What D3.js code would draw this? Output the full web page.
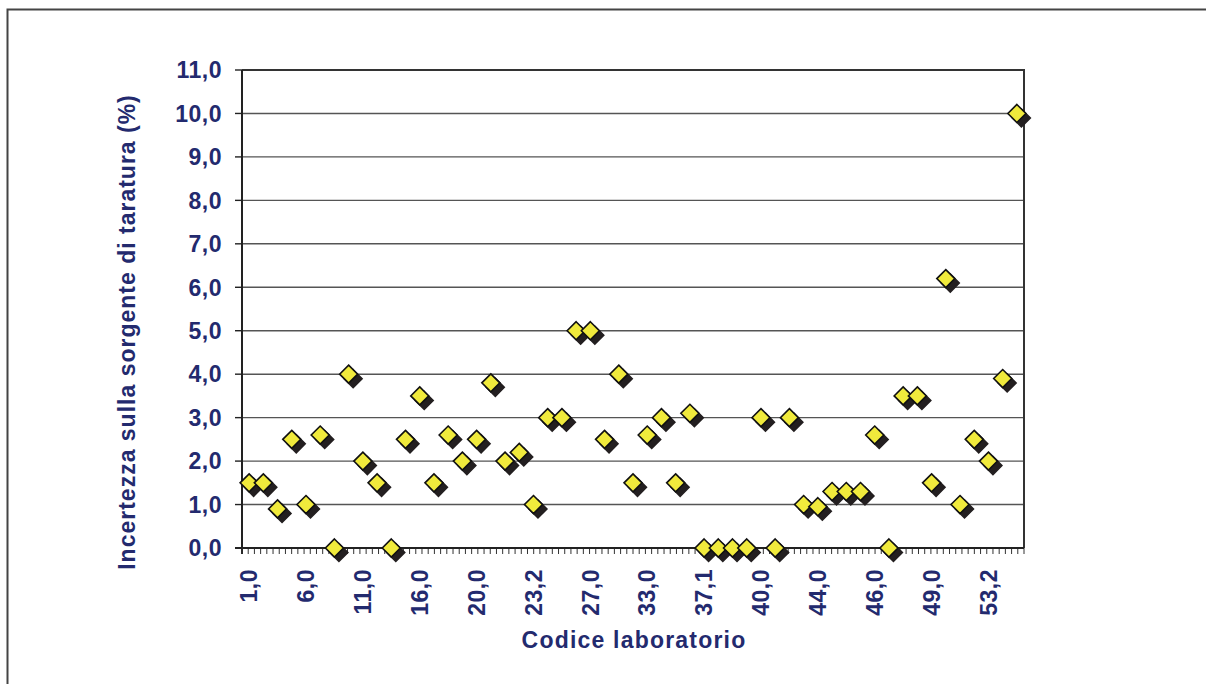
<!DOCTYPE html>
<html lang="it">
<head>
  <meta charset="UTF-8" />
  <title>Incertezza sulla sorgente di taratura</title>
  <script src="https://d3js.org/d3.v7.min.js"></script>
  <style>
    body { margin: 0; background: #fff; font-family: "Liberation Sans", Arial, sans-serif; }
    text { font-weight: bold; fill: #232a6e; }
  </style>
</head>
<body>
  <svg width="1206" height="684"></svg>

  <script>
  // one value per laboratorio, left to right
  const values = [
    1.5, 1.5, 0.9, 2.5, 1.0, 2.6, 0.0, 4.0, 2.0, 1.5,
    0.0, 2.5, 3.5, 1.5, 2.6, 2.0, 2.5, 3.8, 2.0, 2.2,
    1.0, 3.0, 3.0, 5.0, 5.0, 2.5, 4.0, 1.5, 2.6, 3.0,
    1.5, 3.1, 0.0, 0.0, 0.0, 0.0, 3.0, 0.0, 3.0, 1.0,
    0.95, 1.3, 1.3, 1.3, 2.6, 0.0, 3.5, 3.5, 1.5, 6.2,
    1.0, 2.5, 2.0, 3.9, 10.0
  ];
  // codes shown on the axis (every 4th laboratorio)
  const codeLabels = ["1,0", "6,0", "11,0", "16,0", "20,0", "23,2", "27,0",
                      "33,0", "37,1", "40,0", "44,0", "46,0", "49,0", "53,2"];
  const yTicks = [0, 1, 2, 3, 4, 5, 6, 7, 8, 9, 10, 11];
  const minorTickCount = 126;

  const svg = d3.select("svg");
  const margin = { left: 242, right: 182, top: 70, bottom: 136 };
  const width = +svg.attr("width");
  const height = +svg.attr("height");
  const x0 = margin.left, x1 = width - margin.right;
  const y0 = height - margin.bottom, y1 = margin.top;

  const idx = d3.range(values.length);
  const x = d3.scaleBand().domain(idx).range([x0, x1]);
  const y = d3.scaleLinear().domain([0, 11]).range([y0, y1]);
  const fmt = v => d3.format(".1f")(v).replace(".", ",");

  // outer frame
  svg.append("path")
    .attr("d", `M7.5,${height}V9.5H${width}`)
    .attr("fill", "none").attr("stroke", "#444").attr("stroke-width", 2);

  // gridlines
  svg.append("g")
    .selectAll("line")
    .data(yTicks.slice(1, -1))
    .enter().append("line")
    .attr("x1", x0).attr("x2", x1)
    .attr("y1", d => y(d)).attr("y2", d => y(d))
    .attr("stroke", "#555").attr("stroke-width", 1.4);

  // plot border (top, right)
  svg.append("path")
    .attr("d", `M${x0},${y1}H${x1}V${y0}`)
    .attr("fill", "none").attr("stroke", "#333").attr("stroke-width", 2);

  // y axis
  const yAxis = svg.append("g");
  yAxis.append("line")
    .attr("x1", x0).attr("x2", x0).attr("y1", y1).attr("y2", y0 + 6)
    .attr("stroke", "#222").attr("stroke-width", 2);
  yAxis.selectAll(".tick")
    .data(yTicks)
    .enter().append("line")
    .attr("x1", x0 - 7).attr("x2", x0)
    .attr("y1", d => y(d)).attr("y2", d => y(d))
    .attr("stroke", "#222").attr("stroke-width", 1.4);
  yAxis.selectAll("text")
    .data(yTicks)
    .enter().append("text")
    .attr("x", x0 - 20)
    .attr("y", d => y(d))
    .attr("dy", "0.36em")
    .attr("text-anchor", "end")
    .style("font-size", "23px")
    .style("letter-spacing", "0.5px")
    .text(fmt);

  // x axis
  const minor = d3.scaleLinear().domain([0, minorTickCount]).range([x0, x1]);
  const xAxis = svg.append("g");
  xAxis.selectAll("line")
    .data(d3.range(minorTickCount + 1))
    .enter().append("line")
    .attr("x1", d => minor(d)).attr("x2", d => minor(d))
    .attr("y1", y0).attr("y2", y0 + 6)
    .attr("stroke", "#333").attr("stroke-width", 1);
  xAxis.append("line")
    .attr("x1", x0 - 7).attr("x2", x1)
    .attr("y1", y0).attr("y2", y0)
    .attr("stroke", "#222").attr("stroke-width", 2);
  xAxis.selectAll("text")
    .data(codeLabels)
    .enter().append("text")
    .attr("transform", (d, i) => `translate(${x(i * 4) + x.bandwidth() / 2},${y0 + 21}) rotate(-90)`)
    .attr("dy", "0.36em")
    .attr("text-anchor", "end")
    .style("font-size", "23px")
    .style("letter-spacing", "0.5px")
    .text(d => d);

  // diamonds with shadow
  const r = 9;
  const diamond = `M0,${-r}L${r},0L0,${r}L${-r},0Z`;
  const pts = svg.append("g")
    .selectAll("g")
    .data(values)
    .enter().append("g")
    .attr("transform", (d, i) => `translate(${x(i) + x.bandwidth() / 2},${y(d)})`);
  pts.append("path")
    .attr("d", diamond)
    .attr("transform", "translate(4.5,4.5)")
    .attr("fill", "#231f20").attr("stroke", "#231f20").attr("stroke-width", 1.5);
  pts.append("path")
    .attr("d", diamond)
    .attr("fill", "#f0ea3c").attr("stroke", "#111").attr("stroke-width", 1.6);

  // axis titles
  svg.append("text")
    .attr("transform", `translate(127,${(y0 + y1) / 2 + 23}) rotate(-90)`)
    .attr("dy", "0.36em")
    .attr("text-anchor", "middle")
    .style("font-size", "23px")
    .style("letter-spacing", "1px")
    .text("Incertezza sulla sorgente di taratura (%)");

  svg.append("text")
    .attr("x", (x0 + x1) / 2 + 1)
    .attr("y", 648)
    .attr("text-anchor", "middle")
    .style("font-size", "23px")
    .style("letter-spacing", "1.2px")
    .text("Codice laboratorio");
  </script>
</body>
</html>
